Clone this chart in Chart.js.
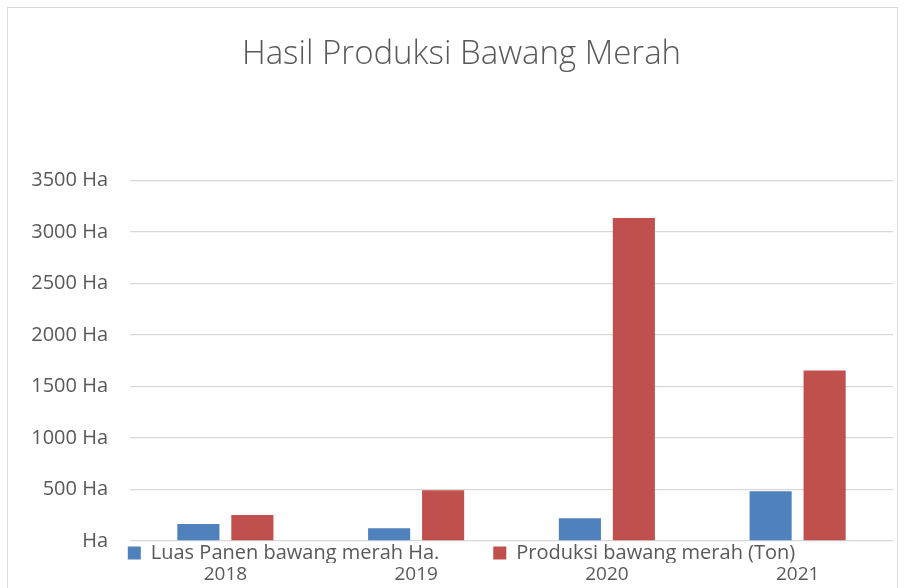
<!DOCTYPE html>
<html>
<head>
<meta charset="utf-8">
<script src="https://cdn.jsdelivr.net/npm/chart.js@4.4.1/dist/chart.umd.min.js"></script>
<style>
  html, body { margin: 0; padding: 0; background: #fff; }
  #wrap { position: relative; width: 905px; height: 588px; }
</style>
</head>
<body>
<div id="wrap"><canvas id="produksiChart"></canvas></div>
<script>
// data
const years = ["2018", "2019", "2020", "2021"];
const luasPanen = [165, 123, 220, 482];     // Ha
const produksi = [252, 492, 3137, 1655];    // Ton
const yTicks = [0, 500, 1000, 1500, 2000, 2500, 3000, 3500];
const seriesNames = ["Luas Panen bawang merah Ha.", "Produksi bawang merah (Ton)"];
const chartTitle = "Hasil Produksi Bawang Merah";

const textColor = "#595959";
const gridColor = "#d9d9d9";

Chart.defaults.font.family = "'Open Sans', 'Noto Sans', sans-serif";
Chart.defaults.color = textColor;

// white background + the thin frame around the chart
const framePlugin = {
    id: "frame",
    beforeDraw(chart) {
        const c = chart.ctx;
        c.save();
        c.fillStyle = "#fff";
        c.fillRect(0, 0, chart.width, chart.height);
        c.strokeStyle = gridColor;
        c.lineWidth = 1;
        c.strokeRect(7.5, 7.5, 890, 640);
        c.restore();
    }
};

new Chart(document.getElementById("produksiChart"), {
    type: "bar",
    data: {
        labels: years,
        datasets: [
            {
                label: seriesNames[0],
                data: luasPanen,
                backgroundColor: "#4f81bd",
                categoryPercentage: 0.566,
                barPercentage: 0.78
            },
            {
                label: seriesNames[1],
                data: produksi,
                backgroundColor: "#c0504d",
                categoryPercentage: 0.566,
                barPercentage: 0.78
            }
        ]
    },
    options: {
        responsive: true,
        maintainAspectRatio: false,
        animation: false,
        layout: { padding: { left: 30, right: 12, top: 0, bottom: 0 } },
        plugins: {
            title: {
                display: true,
                text: chartTitle,
                color: textColor,
                font: { size: 33, weight: "300" },
                padding: { top: 35, bottom: 106 }
            },
            legend: {
                position: "bottom",
                maxHeight: 22,   // keep the legend tight so the years fit under it
                labels: {
                    boxWidth: 13,
                    boxHeight: 13,
                    padding: 2,
                    color: textColor,
                    font: { size: 20 },
                    // widen the gap between the two entries
                    generateLabels(chart) {
                        const items = Chart.defaults.plugins.legend.labels.generateLabels(chart);
                        items[0].text = items[0].text + "          ";
                        items.forEach(it => { it.lineWidth = 0; });
                        return items;
                    }
                }
            },
            tooltip: { enabled: false }
        },
        scales: {
            x: {
                weight: 2000,   // year labels sit below the legend
                grid: { display: false, drawTicks: false, tickLength: 0 },
                border: { display: false },
                ticks: { font: { size: 19 }, color: textColor, padding: 0 },
                afterFit(scale) { scale.height = 25; }
            },
            y: {
                min: 0,
                max: 3500,
                afterBuildTicks(scale) {
                    scale.ticks = yTicks.map(v => ({ value: v }));
                },
                afterFit(scale) { scale.width = 100; },
                grid: { color: gridColor, lineWidth: 1.3, drawTicks: false },
                border: { display: false },
                ticks: {
                    font: { size: 20 },
                    color: textColor,
                    padding: 22,
                    callback: v => (v === 0 ? "Ha" : v + " Ha")
                }
            }
        }
    },
    plugins: [framePlugin]
});
</script>
</body>
</html>
